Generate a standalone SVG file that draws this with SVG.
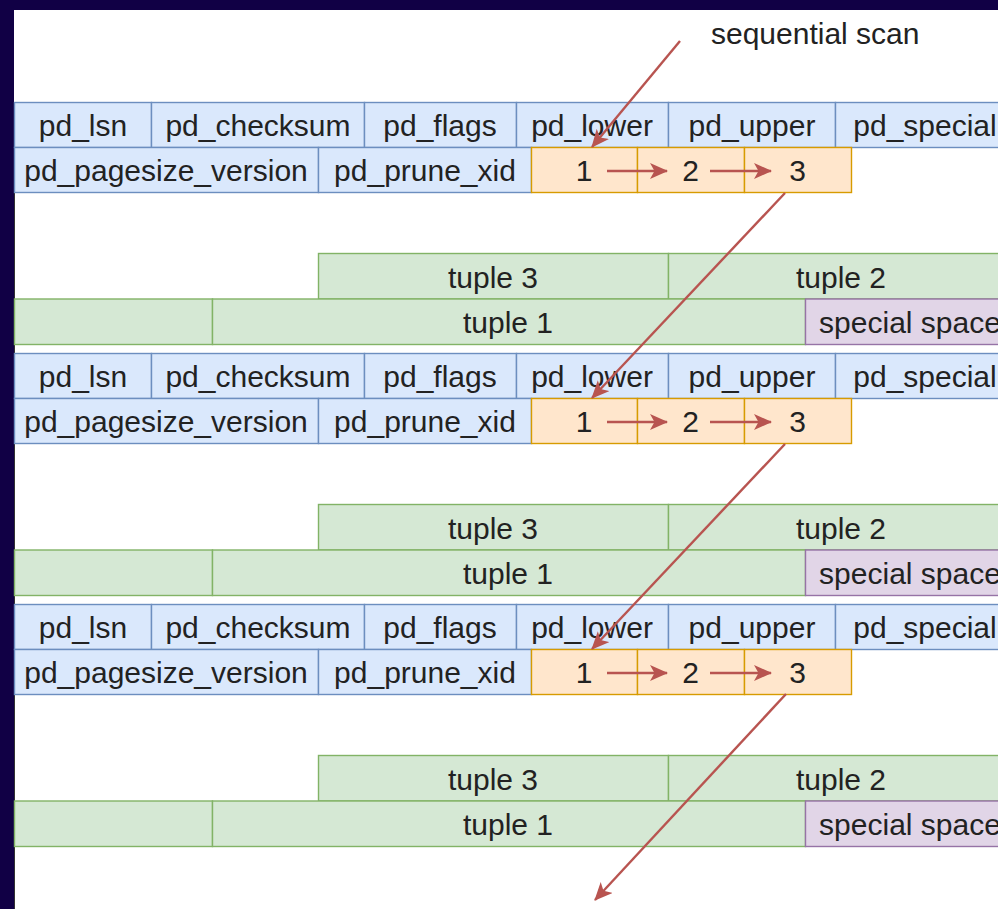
<svg xmlns="http://www.w3.org/2000/svg" width="998" height="909" viewBox="0 0 998 909">
<defs>
<style>
.b{fill:#dae8fc;stroke:#6c8ebf;stroke-width:1.4}
.o{fill:#ffe6cc;stroke:#d79b00;stroke-width:1.4}
.g{fill:#d5e8d4;stroke:#82b366;stroke-width:1.4}
.p{fill:#e1d5e7;stroke:#9673a6;stroke-width:1.4}
text{font-family:"Liberation Sans",Arial,sans-serif;font-size:30px;fill:#222222;text-anchor:middle}
.e{fill:none;stroke:#b85450;stroke-width:2.4;marker-end:url(#ah)}
</style>
<marker id="ah" markerUnits="userSpaceOnUse" markerWidth="18" markerHeight="16" viewBox="0 0 18 16" refX="17" refY="8" orient="auto">
<path d="M0,0 L18,8 L0,16 L4.5,8 z" fill="#b85450"/>
</marker>
<g id="hdr">
<rect class="b" x="14.5" y="102.5" width="137" height="45"/>
<rect class="b" x="151.5" y="102.5" width="213" height="45"/>
<rect class="b" x="364.5" y="102.5" width="152" height="45"/>
<rect class="b" x="516.5" y="102.5" width="152" height="45"/>
<rect class="b" x="668.5" y="102.5" width="167" height="45"/>
<rect class="b" x="835.5" y="102.5" width="179" height="45"/>
<text x="83" y="136">pd_lsn</text>
<text x="258" y="136">pd_checksum</text>
<text x="440" y="136">pd_flags</text>
<text x="592" y="136">pd_lower</text>
<text x="752" y="136">pd_upper</text>
<text x="925" y="136">pd_special</text>
<rect class="b" x="14.5" y="147.5" width="304" height="45"/>
<rect class="b" x="318.5" y="147.5" width="213" height="45"/>
<text x="166" y="181">pd_pagesize_version</text>
<text x="425" y="181">pd_prune_xid</text>
</g>
<g id="lp">
<rect class="o" x="531.5" y="147.5" width="106" height="45"/>
<rect class="o" x="637.5" y="147.5" width="107" height="45"/>
<rect class="o" x="744.5" y="147.5" width="107" height="45"/>
<text x="584" y="181">1</text>
<text x="690.5" y="181">2</text>
<text x="797.5" y="181">3</text>
</g>
<g id="tup">
<rect class="g" x="318.5" y="253.5" width="350" height="45.5"/>
<rect class="g" x="668.5" y="253.5" width="346" height="45.5"/>
<text x="493" y="287.5">tuple 3</text>
<text x="841" y="287.5">tuple 2</text>
<rect class="g" x="14.5" y="299" width="198" height="45.5"/>
<rect class="g" x="212.5" y="299" width="593" height="45.5"/>
<rect class="p" x="805.5" y="299" width="209" height="45.5"/>
<text x="508" y="333">tuple 1</text>
<text x="910" y="333">special space</text>
</g>
</defs>
<rect x="0" y="0" width="998" height="909" fill="#110045"/>
<rect x="14" y="10" width="984" height="899" fill="#ffffff"/>
<line x1="14.5" y1="192" x2="14.5" y2="909" stroke="#333333" stroke-width="1"/>
<text id="label" x="711" y="44" style="text-anchor:start">sequential scan</text>
<g id="page1-header"><use href="#hdr"/></g>
<g id="page1-linepointers"><use href="#lp"/></g>
<g id="page1-tuples"><use href="#tup"/></g>
<g id="page2-header"><use href="#hdr" y="251"/></g>
<g id="page2-linepointers"><use href="#lp" y="251"/></g>
<g id="page2-tuples"><use href="#tup" y="251"/></g>
<g id="page3-header"><use href="#hdr" y="502"/></g>
<g id="page3-linepointers"><use href="#lp" y="502"/></g>
<g id="page3-tuples"><use href="#tup" y="502"/></g>
<g id="connectors">
<path class="e" d="M680,41 L592,147"/>
<path class="e" d="M607,171 L667,171"/>
<path class="e" d="M710,171 L771,171"/>
<path class="e" d="M785,193 L592,398"/>
<path class="e" d="M607,422 L667,422"/>
<path class="e" d="M710,422 L771,422"/>
<path class="e" d="M785,444 L592,649"/>
<path class="e" d="M607,673 L667,673"/>
<path class="e" d="M710,673 L771,673"/>
<path class="e" d="M786,694 L595,900"/>
</g>
</svg>
